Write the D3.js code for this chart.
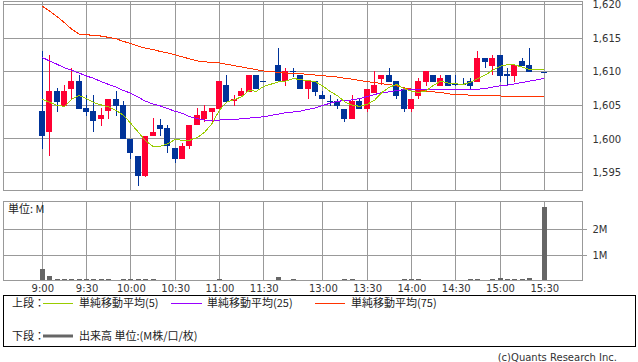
<!DOCTYPE html>
<meta charset="utf-8">
<style>
    body { margin: 0; background: #fff; }
    svg text { font-family: "DejaVu Sans", sans-serif; font-size: 10px; fill: #333; }
    svg text.jp { font-family: "Noto Sans CJK JP", sans-serif; font-size: 11px; fill: #222; }
    .grid line { stroke: #999; stroke-width: 1px; shape-rendering: crispEdges; }
    .frame { fill: none; stroke: #999; stroke-width: 1px; shape-rendering: crispEdges; }
    .ma { fill: none; stroke-width: 1px; shape-rendering: crispEdges; }
    .axis path { display: none; }
</style>
<body>
<svg width="638" height="362"></svg>
<script src="https://d3js.org/d3.v7.min.js"></script>
<script>

    // axis labels (5-minute slots, 9:00 = slot 0, lunch gap after 11:30)
    var tickLabels = ["9:00", "9:30", "10:00", "10:30", "11:00", "11:30", "13:00", "13:30", "14:00", "14:30", "15:00", "15:30"];
    var tickSlots = [0, 6, 12, 18, 24, 30, 38, 44, 50, 56, 62, 68];
    var priceTicks = [1595, 1600, 1605, 1610, 1615, 1620];
    var volTicks = [1, 2];

    // candles, one per slot (null = no trade)
    var open = [1604.1, 1601.0, 1607.1, 1604.9, 1607.4, 1608.6, 1604.6, 1604.1, 1602.9, 1604.1,
        1606.0, 1605.0, 1600.0, 1597.5, 1594.5, 1600.4, 1602.0, 1601.6, 1598.6, 1597.0,
        1598.9, 1602.0, 1602.9, 1604.0, 1604.5, 1608.0, 1605.6, 1606.4, 1607.0, 1609.5,
        1608.6, null, 1611.0, 1608.6, 1610.1, 1609.5, 1607.4, 1608.6, 1606.5, 1605.6,
        1605.6, 1604.5, 1602.9, 1605.6, 1604.4, 1606.9, 1608.9, 1609.5, 1608.6, 1607.5,
        1604.4, 1606.4, 1608.5, 1609.5, 1607.9, 1609.5, 1608.1, 1608.1, 1608.6, 1608.5,
        1612.0, 1610.9, 1612.5, 1609.6, 1609.4, 1611.6, 1611.0, null, 1610.0];
    var high = [1613.1, 1612.5, 1607.6, 1608.0, 1610.5, 1609.5, 1606.5, 1606.5, 1604.6, 1606.0,
        1607.1, 1605.6, 1600.0, 1597.5, 1600.5, 1603.1, 1603.0, 1602.0, 1598.6, 1599.4,
        1602.0, 1604.6, 1605.0, 1604.6, 1608.6, 1609.5, 1606.5, 1607.6, 1609.5, 1609.5,
        1608.6, null, 1613.6, 1610.5, 1610.5, 1609.5, 1608.6, 1608.6, 1607.1, 1606.5,
        1606.0, 1604.5, 1606.5, 1605.9, 1607.5, 1610.1, 1609.5, 1610.5, 1608.6, 1607.5,
        1606.0, 1609.0, 1610.1, 1609.5, 1609.5, 1609.5, 1609.5, 1609.0, 1609.0, 1613.1,
        1612.0, 1612.5, 1612.5, 1610.5, 1611.0, 1612.0, 1613.5, null, 1610.0];
    var low = [1598.5, 1597.4, 1604.0, 1604.8, 1606.0, 1604.4, 1603.4, 1601.0, 1601.9, 1602.9,
        1603.4, 1600.0, 1597.0, 1593.0, 1594.3, 1600.4, 1600.4, 1597.9, 1596.4, 1597.0,
        1598.5, 1602.0, 1602.5, 1602.4, 1604.4, 1605.5, 1604.9, 1606.4, 1607.0, 1607.4,
        1608.6, null, 1608.6, 1607.9, 1609.2, 1607.4, 1605.9, 1606.4, 1605.9, 1604.9,
        1604.4, 1602.5, 1602.9, 1604.5, 1604.0, 1606.9, 1608.0, 1608.5, 1606.0, 1604.0,
        1604.0, 1605.9, 1607.9, 1608.5, 1607.9, 1607.9, 1607.8, 1608.0, 1607.4, 1608.5,
        1610.5, 1609.5, 1608.5, 1608.0, 1608.5, 1610.9, 1610.0, null, 1610.0];
    var close = [1600.4, 1607.1, 1605.5, 1607.1, 1608.6, 1604.4, 1604.0, 1602.7, 1603.5, 1606.0,
        1604.9, 1600.0, 1597.9, 1594.5, 1600.5, 1601.0, 1601.4, 1598.9, 1597.0, 1599.0,
        1602.0, 1603.5, 1604.1, 1604.6, 1608.6, 1605.5, 1606.0, 1607.1, 1609.5, 1607.4,
        1608.6, null, 1608.6, 1610.1, 1610.0, 1607.4, 1608.6, 1607.0, 1605.9, 1605.5,
        1604.9, 1602.9, 1605.6, 1604.5, 1607.5, 1608.0, 1609.5, 1608.5, 1606.4, 1604.4,
        1606.0, 1608.6, 1610.1, 1608.5, 1609.0, 1607.9, 1608.0, 1608.0, 1607.9, 1612.0,
        1611.5, 1612.0, 1609.4, 1609.4, 1611.0, 1610.9, 1610.0, null, 1610.0];

    // volume, millions
    var volume = [0.49, 0.23, 0.1, 0.1, 0.1, 0.1, 0.1, 0.1, 0.1, 0.1,
        0.03, 0.1, 0.1, 0.1, 0.1, 0.1, 0.03, 0.03, 0.03, 0.03,
        0.03, 0.03, 0.03, 0.03, 0.1, 0.03, 0.03, 0.03, 0.03, 0.03,
        0.03, null, 0.18, 0.03, 0.11, 0.03, 0.03, 0.03, 0.03, 0.03,
        0.03, 0.11, 0.11, 0.03, 0.03, 0.03, 0.03, 0.03, 0.03, 0.1,
        0.11, 0.1, 0.03, 0.03, 0.03, 0.03, 0.03, 0.03, 0.1, 0.1,
        0.03, 0.11, 0.16, 0.11, 0.11, 0.11, 0.15, null, 2.86];

    // moving averages
    var ma5 = [1605.9, 1605.45, 1605.0, 1604.85, 1605.9, 1606.45, 1606.0, 1605.4, 1605.05, 1604.75,
        1604.25, 1603.5, 1602.3, 1601.0, 1599.7, 1598.9, 1598.9, 1599.3, 1599.9, 1599.8,
        1599.8, 1600.2, 1601.0, 1602.3, 1604.3, 1605.5, 1605.85, 1606.25, 1607.2, 1607.1,
        1607.8, null, 1608.5, 1608.6, 1609.0, 1608.8, 1608.7, 1608.5, 1607.85, 1607.05,
        1606.4, 1605.5, 1605.0, 1604.85, 1605.15, 1605.75, 1606.9, 1607.7, 1608.1, 1607.5,
        1607.1, 1606.9, 1607.15, 1608.0, 1608.6, 1608.3, 1608.2, 1608.1, 1608.45, 1609.0,
        1609.5, 1610.2, 1610.8, 1611.05, 1611.0, 1610.7, 1610.3, null, 1610.3];
    var ma25 = [1612.1, 1611.6, 1611.1, 1610.6, 1610.2, 1609.8, 1609.35, 1609.0, 1608.5, 1608.1,
        1607.7, 1607.2, 1606.8, 1606.2, 1605.6, 1605.2, 1604.9, 1604.5, 1604.1, 1603.8,
        1603.3, 1603.0, 1602.8, 1602.8, 1602.8, 1602.9, 1602.9, 1603.0, 1603.1, 1603.2,
        1603.3, null, 1603.7, 1603.9, 1604.0, 1604.15, 1604.4, 1604.6, 1605.0, 1605.3,
        1605.6, 1605.7, 1605.8, 1606.0, 1606.3, 1606.6, 1606.9, 1607.0, 1607.2, 1607.3,
        1607.3, 1607.3, 1607.3, 1607.35, 1607.35, 1607.35, 1607.35, 1607.4, 1607.4, 1607.4,
        1607.5, 1607.7, 1607.9, 1608.0, 1608.2, 1608.4, 1608.6, null, 1609.0];
    var ma75 = [1619.75, 1619.0, 1618.2, 1617.3, 1616.3, 1615.6, 1615.5, 1615.4, 1615.3, 1615.1,
        1614.9, 1614.5, 1614.2, 1613.8, 1613.5, 1613.3, 1613.0, 1612.8, 1612.5, 1612.2,
        1611.9, 1611.6, 1611.5, 1611.3, 1611.3, 1611.1, 1610.9, 1610.7, 1610.5, 1610.3,
        1610.1, null, 1609.9, 1609.8, 1609.8, 1609.7, 1609.6, 1609.5, 1609.4, 1609.3,
        1609.2, 1609.0, 1608.9, 1608.7, 1608.5, 1608.4, 1608.2, 1608.1, 1607.9, 1607.6,
        1607.4, 1607.3, 1607.1, 1607.0, 1606.9, 1606.7, 1606.6, 1606.6, 1606.5, 1606.5,
        1606.4, 1606.4, 1606.4, 1606.3, 1606.3, 1606.3, 1606.3, null, 1606.3];

    var svg = d3.select("svg");

    var left = 3.5, right = 582.5;
    var x = d3.scaleLinear().domain([0, 68]).range([42.3, 544.3]),
        y = d3.scaleLinear().domain([1595, 1620]).range([172.5, 4.5]),
        yv = d3.scaleLinear().domain([0, 2]).range([282, 229.5]);

    function px(i) { return Math.floor(x(i)); }

    // ---------- upper panel ----------
    var upper = svg.append("g");
    var g1 = upper.append("g").attr("class", "grid");
    g1.selectAll(".h").data(priceTicks).enter().append("line")
        .attr("x1", left).attr("x2", right)
        .attr("y1", function (d) { return Math.floor(y(d)) + 0.5; })
        .attr("y2", function (d) { return Math.floor(y(d)) + 0.5; });
    g1.selectAll(".v").data(tickSlots).enter().append("line")
        .attr("x1", function (d) { return px(d) + 0.5; })
        .attr("x2", function (d) { return px(d) + 0.5; })
        .attr("y1", 1.5).attr("y2", 190.5);
    upper.append("rect").attr("class", "frame")
        .attr("x", left).attr("y", 1.5).attr("width", right - left).attr("height", 189);

    upper.append("g").attr("class", "axis")
        .attr("transform", "translate(" + right + ",0)")
        .call(d3.axisRight(y).tickValues(priceTicks).tickFormat(d3.format(",")).tickSize(0).tickPadding(10))
        .attr("font-family", null).attr("font-size", null);

    var idx = d3.range(open.length).filter(function (i) { return open[i] !== null; });

    var candles = upper.append("g").selectAll("g").data(idx).enter().append("g")
        .attr("fill", function (i) { return close[i] > open[i] ? "#ff0033" : "#003399"; });
    candles.append("rect")
        .attr("x", function (i) { return px(i); })
        .attr("width", 1)
        .attr("y", function (i) { return Math.round(y(high[i])); })
        .attr("height", function (i) { return Math.max(1, Math.round(y(low[i])) - Math.round(y(high[i]))); });
    candles.append("rect")
        .attr("x", function (i) { return px(i) - 3; })
        .attr("width", 6)
        .attr("y", function (i) { return Math.round(y(Math.max(open[i], close[i]))); })
        .attr("height", function (i) {
            return Math.max(1, Math.round(y(Math.min(open[i], close[i]))) - Math.round(y(Math.max(open[i], close[i]))));
        });

    var line = d3.line()
        .x(function (d) { return x(d.i); })
        .y(function (d) { return y(d.v); });

    [[ma75, "#ff3300"], [ma25, "#9900ff"], [ma5, "#99cc00"]].forEach(function (s) {
        var pts = s[0].map(function (v, i) { return {i: i, v: v}; })
            .filter(function (d) { return d.v !== null; });
        upper.append("path").attr("class", "ma").attr("stroke", s[1]).attr("d", line(pts));
    });

    // ---------- volume panel ----------
    var lower = svg.append("g");
    lower.append("clipPath").attr("id", "vclip").append("rect")
        .attr("x", left).attr("y", 201.5).attr("width", right - left).attr("height", 79);
    var g2 = lower.append("g").attr("class", "grid");
    g2.selectAll(".h").data(volTicks).enter().append("line")
        .attr("x1", left).attr("x2", right + 4.5)
        .attr("y1", function (d) { return Math.floor(yv(d)) + 0.5; })
        .attr("y2", function (d) { return Math.floor(yv(d)) + 0.5; });
    g2.selectAll(".v").data(tickSlots).enter().append("line")
        .attr("x1", function (d) { return px(d) + 0.5; })
        .attr("x2", function (d) { return px(d) + 0.5; })
        .attr("y1", 201.5).attr("y2", 280.5);

    lower.append("g").attr("clip-path", "url(#vclip)")
        .selectAll("rect").data(idx).enter().append("rect")
        .attr("fill", "#666")
        .attr("x", function (i) { return px(i) - 2; })
        .attr("width", 5)
        .attr("y", function (i) { return Math.round(yv(volume[i])); })
        .attr("height", function (i) { return 282 - Math.round(yv(volume[i])); });

    lower.append("rect").attr("class", "frame")
        .attr("x", left).attr("y", 201.5).attr("width", right - left).attr("height", 79);

    lower.append("g").attr("class", "axis")
        .attr("transform", "translate(" + right + ",0)")
        .call(d3.axisRight(yv).tickValues(volTicks).tickFormat(function (d) { return d + "M"; }).tickSize(0).tickPadding(10))
        .attr("font-family", null).attr("font-size", null);

    lower.append("text").attr("class", "jp").attr("x", 8).attr("y", 213).text("単位: M");

    lower.append("g").attr("class", "axis")
        .attr("transform", "translate(0,281)")
        .call(d3.axisBottom(x).tickValues(tickSlots).tickFormat(function (d, i) { return tickLabels[i]; }).tickSize(0).tickPadding(4))
        .attr("font-family", null).attr("font-size", null);

    // ---------- legend ----------
    var lg = svg.append("g");
    lg.append("rect").attr("x", 3.5).attr("y", 295.5).attr("width", 631.5).attr("height", 50.5)
        .attr("fill", "none").attr("stroke", "#000").attr("shape-rendering", "crispEdges");

    var legendTop = [
        {x1: 43, x2: 73, tx: 79, color: "#99cc00", label: "単純移動平均(5)"},
        {x1: 171, x2: 202, tx: 207, color: "#9900ff", label: "単純移動平均(25)"},
        {x1: 315, x2: 345, tx: 351, color: "#ff3300", label: "単純移動平均(75)"}
    ];
    lg.append("text").attr("class", "jp").attr("x", 12).attr("y", 307).text("上段：");
    legendTop.forEach(function (d) {
        lg.append("line").attr("x1", d.x1).attr("x2", d.x2).attr("y1", 303.5).attr("y2", 303.5)
            .attr("stroke", d.color).attr("shape-rendering", "crispEdges");
        lg.append("text").attr("class", "jp").attr("x", d.tx).attr("y", 307).text(d.label);
    });
    lg.append("text").attr("class", "jp").attr("x", 12).attr("y", 340).text("下段：");
    lg.append("line").attr("x1", 43).attr("x2", 73).attr("y1", 336).attr("y2", 336)
        .attr("stroke", "#666").attr("stroke-width", 3);
    lg.append("text").attr("class", "jp").attr("x", 79).attr("y", 340).text("出来高 単位:(M株/口/枚)");

    svg.append("text").attr("x", 617).attr("y", 361).attr("text-anchor", "end")
        .text("(c)Quants Research Inc.");

</script>
</body>
